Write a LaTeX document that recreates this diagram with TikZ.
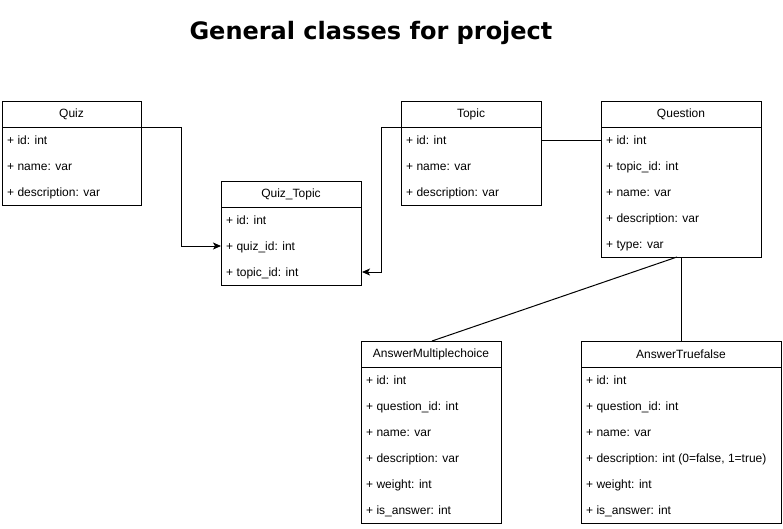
\documentclass[tikz,border=0pt]{standalone}
\usepackage{fontspec}
\setmainfont{Liberation Sans}
\newfontfamily\titlefont{DejaVu Sans}
\usetikzlibrary{arrows.meta,calc}
\begin{document}
\begin{tikzpicture}[x=1pt,y=-1pt,
  box/.style={draw, line width=1pt, inner sep=0pt, anchor=north west},
  hdr/.style={font=\fontsize{12}{14}\selectfont, inner sep=0pt, anchor=center},
  row/.style={font=\fontsize{12}{14}\selectfont, inner sep=0pt, anchor=base west},
  sep/.style={line width=1pt},
  conn/.style={line width=1pt},
  arr/.style={line width=1pt, -{Stealth[length=8pt,width=7pt,inset=2pt]}}]
\useasboundingbox (0,0) rectangle (783,528);
\node[font=\titlefont\bfseries\fontsize{24}{28}\selectfont, anchor=base, inner sep=0pt] (title) at (371,39) {General classes for project};

% Quiz
\node[box, minimum width=139pt, minimum height=104pt] (quiz) at (2,101) {};
\draw[sep] (2,127) -- (141,127);
\node[hdr] (quizh) at (71.5,114) {Quiz};
\node[row] (quiz1) at (7,144.3) {+ id: int};
\node[row] (quiz2) at (7,170.3) {+ name: var};
\node[row] (quiz3) at (7,196.3) {+ description: var};

% Quiz_Topic
\node[box, minimum width=140pt, minimum height=104pt] (qt) at (221,181) {};
\draw[sep] (221,207) -- (361,207);
\node[hdr] (qth) at (291,194) {Quiz\_Topic};
\node[row] (qt1) at (226,224.3) {+ id: int};
\node[row] (qt2) at (226,250.3) {+ quiz\_id: int};
\node[row] (qt3) at (226,276.3) {+ topic\_id: int};

% Topic
\node[box, minimum width=140pt, minimum height=104pt] (topic) at (401,101) {};
\draw[sep] (401,127) -- (541,127);
\node[hdr] (topich) at (471,114) {Topic};
\node[row] (topic1) at (406,144.3) {+ id: int};
\node[row] (topic2) at (406,170.3) {+ name: var};
\node[row] (topic3) at (406,196.3) {+ description: var};

% Question
\node[box, minimum width=160pt, minimum height=156pt] (question) at (601,101) {};
\draw[sep] (601,127) -- (761,127);
\node[hdr] (questionh) at (681,114) {Question};
\node[row] (question1) at (606,144.3) {+ id: int};
\node[row] (question2) at (606,170.3) {+ topic\_id: int};
\node[row] (question3) at (606,196.3) {+ name: var};
\node[row] (question4) at (606,222.3) {+ description: var};
\node[row] (question5) at (606,248.3) {+ type: var};

% AnswerMultiplechoice
\node[box, minimum width=140pt, minimum height=182pt] (amc) at (361,341) {};
\draw[sep] (361,367) -- (501,367);
\node[hdr] (amch) at (431,354) {AnswerMultiplechoice};
\node[row] (amc1) at (366,384.3) {+ id: int};
\node[row] (amc2) at (366,410.3) {+ question\_id: int};
\node[row] (amc3) at (366,436.3) {+ name: var};
\node[row] (amc4) at (366,462.3) {+ description: var};
\node[row] (amc5) at (366,488.3) {+ weight: int};
\node[row] (amc6) at (366,514.3) {+ is\_answer: int};

% AnswerTruefalse
\node[box, minimum width=200pt, minimum height=182pt] (atf) at (581,341) {};
\draw[sep] (581,367) -- (781,367);
\node[hdr] (atfh) at (681,354) {AnswerTruefalse};
\node[row] (atf1) at (586,384.3) {+ id: int};
\node[row] (atf2) at (586,410.3) {+ question\_id: int};
\node[row] (atf3) at (586,436.3) {+ name: var};
\node[row] (atf4) at (586,462.3) {+ description: int (0=false, 1=true)};
\node[row] (atf5) at (586,488.3) {+ weight: int};
\node[row] (atf6) at (586,514.3) {+ is\_answer: int};

% connectors
\coordinate (quizR) at (quiz.east |- 0,127);
\coordinate (qtL) at (qt.west |- 0,246);
\draw[arr] (quizR) -- (181,127) |- (qtL);
\coordinate (topicL) at (topic.west |- 0,127);
\coordinate (qtR) at (qt.east |- 0,272);
\draw[arr] (topicL) -- (381,127) |- (qtR);
\coordinate (topicR) at (topic.east |- 0,140);
\coordinate (questionL) at (question.west |- 0,140);
\draw[conn] (topicR) -- (questionL);
\coordinate (qb1) at (677,257);
\coordinate (amcT) at (432,341);
\draw[conn] (qb1) -- (amcT);
\coordinate (qb2) at (681,257);
\coordinate (atfT) at (681,341);
\draw[conn] (qb2) -- (atfT);
\end{tikzpicture}
\end{document}
